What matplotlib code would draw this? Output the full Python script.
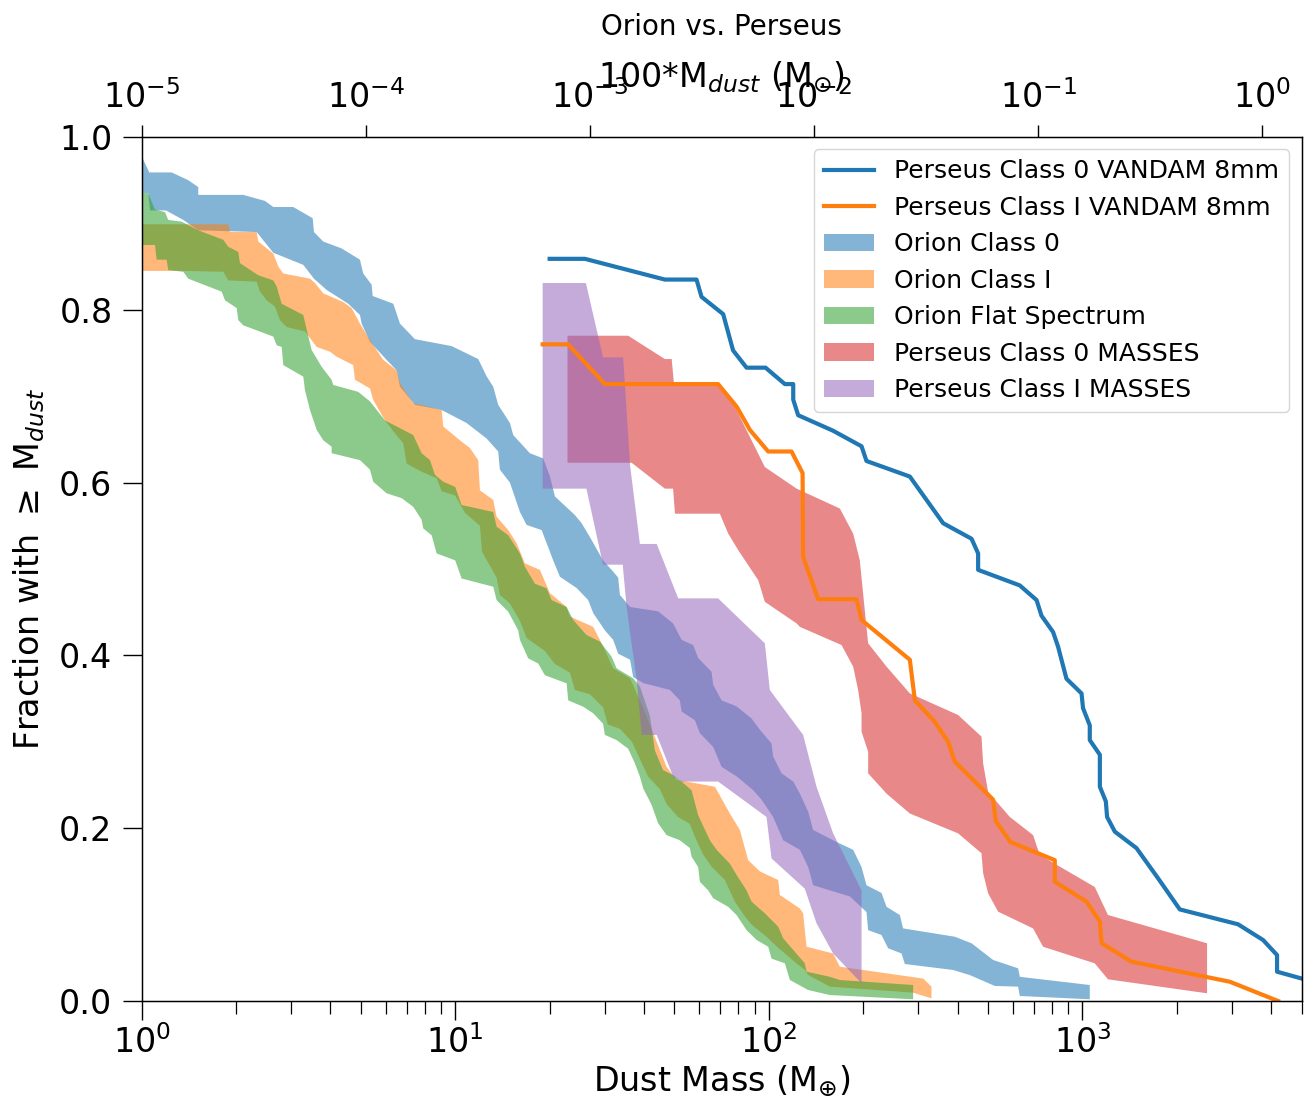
import numpy as np
import matplotlib
matplotlib.use('Agg')
import matplotlib.pyplot as plt
from matplotlib.lines import Line2D
from matplotlib.patches import Patch
from matplotlib.ticker import NullLocator

# ---------------- data (dust mass in Earth masses, cumulative fraction) ----------------
# Perseus Class 0 VANDAM 8mm (line)
per0_vandam_m = [20.0, 25.9, 46.6, 58.8, 61.0, 71.5, 76.9, 84.9, 97.6, 112.5, 119.6, 119.6, 124.0,
                 160.3, 197.5, 204.8, 281.5, 359.5, 442.9, 464.8, 464.8, 631, 714, 740, 806, 836,
                 889, 993, 1004, 1055, 1055, 1136, 1136, 1187, 1198, 1268, 1486, 1742, 2043, 3133,
                 3765, 4172, 4172, 5000]
per0_vandam_f = [0.859, 0.859, 0.835, 0.835, 0.815, 0.795, 0.753, 0.733, 0.733, 0.714, 0.714, 0.696,
                 0.678, 0.660, 0.642, 0.625, 0.607, 0.553, 0.535, 0.518, 0.499, 0.481, 0.464, 0.446,
                 0.427, 0.410, 0.373, 0.356, 0.339, 0.319, 0.302, 0.285, 0.248, 0.231, 0.213, 0.196,
                 0.177, 0.142, 0.106, 0.0888, 0.0706, 0.0532, 0.0339, 0.026]

# Perseus Class I VANDAM 8mm (line)
per1_vandam_m = [19.0, 22.9, 30.0, 68.9, 78.9, 87.0, 99.5, 118.1, 128.1, 128.6, 143.6, 190.4, 197.5,
                 281.5, 292.1, 338.2, 372.9, 391.7, 518.8, 529.2, 589.6, 816, 816, 1030, 1136, 1150,
                 1433, 2949, 4204]
per1_vandam_f = [0.760, 0.760, 0.714, 0.714, 0.688, 0.661, 0.636, 0.636, 0.611, 0.514, 0.465, 0.465,
                 0.441, 0.395, 0.348, 0.323, 0.300, 0.277, 0.233, 0.208, 0.184, 0.163, 0.138, 0.115,
                 0.092, 0.067, 0.0455, 0.0223, 0.0]

# Orion Class 0 (band)
ori0_up_m = [1.00, 1.058, 1.247, 1.409, 1.516, 1.516, 2.110, 2.474, 2.630, 3.044, 3.512, 3.545, 3.795,
             4.344, 4.969, 5.090, 5.414, 5.454, 6.346, 6.665, 7.438, 9.739, 11.84, 12.59, 13.22, 13.71,
             14.94, 15.31, 17.30, 19.08, 20.05, 20.79, 24.07, 25.29, 26.88, 29.6, 31.89, 33.08, 33.50,
             36.1, 44.37, 49.5, 52.7, 57.37, 59.51, 65.67, 66.45, 70.67, 78.89, 88.08, 93.6, 102.0,
             103.2, 109.8, 119.6, 125.6, 133.5, 138.4, 164.4, 185.7, 197.5, 204.8, 228.7, 237.3,
             261.6, 268.0, 391.6, 442.9, 518.8, 623.4, 631.3, 1055]
ori0_up_f = [0.978, 0.959, 0.959, 0.950, 0.942, 0.933, 0.933, 0.926, 0.919, 0.919, 0.906, 0.890, 0.879,
             0.871, 0.858, 0.842, 0.829, 0.816, 0.807, 0.784, 0.766, 0.758, 0.743, 0.723, 0.711, 0.690,
             0.669, 0.655, 0.634, 0.628, 0.607, 0.584, 0.5625, 0.553, 0.537, 0.51, 0.497, 0.49, 0.47,
             0.456, 0.451, 0.437, 0.418, 0.412, 0.397, 0.381, 0.366, 0.348, 0.341, 0.327, 0.314, 0.298,
             0.283, 0.2635, 0.254, 0.240, 0.219, 0.198, 0.184, 0.175, 0.155, 0.134, 0.125, 0.109,
             0.0995, 0.084, 0.0744, 0.0668, 0.0475, 0.0378, 0.028, 0.0185]
ori0_lo_m = [1.00, 1.050, 1.064, 1.196, 1.358, 1.516, 2.328, 2.630, 3.278, 3.545, 3.891, 4.560, 4.969,
             5.030, 5.347, 6.045, 6.506, 6.665, 7.438, 9.052, 10.87, 12.59, 13.71, 13.88, 14.94, 16.08,
             16.89, 18.86, 20.53, 21.57, 24.38, 26.55, 27.54, 30.0, 31.89, 33.08, 36.1, 36.93, 39.76,
             48.36, 52.03, 52.7, 58.09, 60.26, 66.45, 70.67, 78.89, 89.13, 94.78, 103.2, 111.1, 125.6,
             133.5, 138.4, 181.2, 204.8, 207.3, 228.7, 240.1, 264.9, 271.4, 386.8, 437.3, 525.4,
             623.4, 631.3, 1055]
ori0_lo_f = [0.935, 0.935, 0.915, 0.915, 0.904, 0.892, 0.890, 0.866, 0.852, 0.836, 0.823, 0.807, 0.794,
             0.784, 0.763, 0.742, 0.730, 0.711, 0.690, 0.684, 0.669, 0.651, 0.636, 0.615, 0.600, 0.566,
             0.551, 0.545, 0.51, 0.491, 0.478, 0.464, 0.449, 0.429, 0.418, 0.402, 0.395, 0.375, 0.368,
             0.36, 0.348, 0.335, 0.325, 0.310, 0.294, 0.271, 0.26, 0.244, 0.233, 0.213, 0.186, 0.175,
             0.155, 0.134, 0.121, 0.103, 0.082, 0.0764, 0.061, 0.055, 0.0428, 0.0359, 0.030, 0.0174,
             0.0166, 0.0058, 0.002]

# Orion Class I (band)
ori1_up_m = [1.005, 1.889, 1.913, 2.328, 2.355, 2.630, 2.728, 2.830, 3.443, 3.572, 3.795, 4.395, 4.675,
             4.969, 5.347, 5.895, 6.506, 6.665, 7.346, 9.052, 9.157, 10.35, 11.14, 11.84, 11.99, 13.22,
             13.55, 14.76, 15.69, 16.68, 18.62, 20.05, 22.65, 23.21, 27.54, 29.29, 31.89, 36.1, 38.81,
             42.79, 47.20, 50.79, 67.29, 75.09, 80.84, 85.9, 93.6, 107.1, 108.4, 125.6, 128.6, 131.9,
             160.3, 168.4, 310.4, 330.1, 330.1]
ori1_up_f = [0.899, 0.899, 0.890, 0.890, 0.879, 0.865, 0.850, 0.842, 0.836, 0.831, 0.819, 0.809, 0.802,
             0.784, 0.765, 0.742, 0.730, 0.715, 0.692, 0.684, 0.665, 0.649, 0.640, 0.626, 0.591, 0.580,
             0.5605, 0.545, 0.53, 0.5065, 0.499, 0.472, 0.456, 0.445, 0.433, 0.414, 0.385, 0.3735, 0.348,
             0.31, 0.271, 0.256, 0.248, 0.217, 0.198, 0.163, 0.150, 0.14, 0.1227, 0.107, 0.1015, 0.0628,
             0.055, 0.0397, 0.026, 0.0166, 0.003]
ori1_lo_m = [1.005, 1.358, 1.822, 1.889, 2.328, 2.385, 2.505, 2.662, 2.762, 2.901, 3.318, 3.616, 3.987,
             4.187, 4.730, 4.790, 5.347, 5.478, 5.969, 6.425, 6.828, 7.000, 7.718, 8.725, 9.052, 10.0,
             10.74, 11.99, 12.17, 13.55, 13.88, 14.94, 16.08, 16.89, 19.32, 20.79, 23.21, 24.07, 26.88,
             29.6, 30.68, 33.50, 36.59, 38.81, 41.16, 44.93, 47.20, 51.28, 56.0, 58.09, 61.6, 65.8, 72.4,
             77.9, 83.8, 88.3, 97.8, 106.8, 112.5, 121.0, 130.2, 133.5, 156.5, 288.4, 330.1]
ori1_lo_f = [0.845, 0.845, 0.844, 0.834, 0.8325, 0.821, 0.811, 0.8036, 0.788, 0.780, 0.775, 0.757, 0.7515,
             0.7457, 0.736, 0.719, 0.709, 0.6956, 0.672, 0.657, 0.6455, 0.622, 0.6135, 0.605, 0.59, 0.585,
             0.565, 0.55, 0.52, 0.49, 0.47, 0.46, 0.44, 0.42, 0.405, 0.39, 0.38, 0.36, 0.355, 0.34, 0.32,
             0.315, 0.30, 0.28, 0.26, 0.245, 0.228, 0.213, 0.205, 0.19, 0.17, 0.155, 0.14, 0.115, 0.098,
             0.088, 0.075, 0.062, 0.055, 0.045, 0.036, 0.030, 0.0166, 0.0096, 0.003]

# Orion Flat Spectrum (band)
oriF_up_m = [1.008, 1.048, 1.103, 1.188, 1.216, 1.342, 1.409, 1.516, 1.822, 1.889, 2.034, 2.059, 2.355,
             2.630, 2.696, 2.797, 2.901, 3.278, 3.360, 3.485, 3.751, 4.036, 4.084, 4.907, 5.347, 5.969,
             6.506, 7.346, 7.814, 8.307, 8.617, 9.157, 10.0, 10.48, 11.14, 13.22, 13.55, 14.76, 16.08,
             16.68, 17.95, 19.56, 20.29, 22.65, 23.78, 26.23, 28.93, 31.52, 32.70, 36.93, 38.81, 41.75,
             43.31, 46.03, 49.5, 52.7, 56.7, 59.51, 64.86, 68.14, 75.09, 78.89, 84.9, 88.08, 97.1, 107.1,
             111.1, 130.2, 131.9, 156.5, 168.4, 288.4]
oriF_up_f = [0.935, 0.935, 0.916, 0.913, 0.904, 0.902, 0.898, 0.892, 0.881, 0.873, 0.867, 0.854, 0.840,
             0.834, 0.827, 0.807, 0.804, 0.794, 0.777, 0.7535, 0.734, 0.719, 0.713, 0.705, 0.694, 0.672,
             0.665, 0.655, 0.634, 0.626, 0.609, 0.601, 0.595, 0.574, 0.572, 0.566, 0.549, 0.539, 0.518,
             0.5026, 0.483, 0.4777, 0.464, 0.456, 0.441, 0.4236, 0.416, 0.3985, 0.385, 0.3735, 0.364, 0.33,
             0.29, 0.267, 0.2616, 0.2538, 0.244, 0.215, 0.186, 0.175, 0.159, 0.146, 0.128, 0.115, 0.1015,
             0.086, 0.0726, 0.0436, 0.034, 0.028, 0.0243, 0.0185]
oriF_lo_m = [1.008, 1.103, 1.117, 1.202, 1.216, 1.358, 1.409, 1.800, 1.845, 2.010, 2.034, 2.110, 2.630,
             2.696, 2.797, 2.830, 3.278, 3.318, 3.443, 3.616, 3.795, 4.036, 4.036, 4.969, 5.347, 5.478,
             6.045, 6.748, 7.346, 7.814, 7.907, 8.412, 8.725, 10.0, 10.48, 13.22, 13.55, 14.76, 15.88,
             16.08, 17.09, 18.39, 19.32, 22.65, 22.92, 25.59, 27.54, 29.6, 30.0, 32.70, 35.6, 37.41, 38.81,
             39.76, 42.28, 44.37, 47.20, 52.03, 56.0, 56.7, 59.51, 60.26, 64.07, 66.45, 74.19, 78.89, 84.9,
             91.39, 99.5, 102.0, 112.5, 116.7, 133.5, 156.5, 288.4]
oriF_lo_f = [0.875, 0.875, 0.858, 0.858, 0.846, 0.844, 0.836, 0.821, 0.811, 0.802, 0.788, 0.782, 0.769,
             0.759, 0.757, 0.736, 0.7226, 0.707, 0.684, 0.661, 0.649, 0.6415, 0.634, 0.626, 0.615, 0.601,
             0.5876, 0.582, 0.572, 0.557, 0.547, 0.539, 0.518, 0.510, 0.489, 0.4795, 0.464, 0.4506, 0.429,
             0.418, 0.3966, 0.3906, 0.377, 0.3677, 0.348, 0.3406, 0.333, 0.321, 0.308, 0.302, 0.292, 0.275,
             0.2596, 0.246, 0.227, 0.2056, 0.192, 0.186, 0.177, 0.167, 0.155, 0.138, 0.128, 0.119, 0.109,
             0.0995, 0.082, 0.0706, 0.0628, 0.049, 0.0436, 0.0243, 0.0127, 0.0069, 0.002]

# Perseus Class 0 MASSES (band)
per0_up_m = [22.8, 35.6, 46.6, 49.0, 49.8, 68.8, 76.9, 97.1, 122.6, 168.4, 185.7, 195.0, 203.8, 207.3,
             237.3, 281.5, 401.3, 476.4, 482.2, 500.2, 586.6, 695.8, 730.9, 1094, 1206, 2496]
per0_up_f = [0.770, 0.770, 0.743, 0.743, 0.715, 0.715, 0.692, 0.618, 0.593, 0.570, 0.541, 0.510, 0.440,
             0.414, 0.387, 0.356, 0.331, 0.306, 0.275, 0.242, 0.213, 0.192, 0.169, 0.132, 0.0995, 0.0668]
per0_lo_m = [22.8, 36.5, 46.6, 49.5, 50.2, 69.8, 74.2, 79.8, 92.5, 97.1, 122.6, 125.6, 170.5, 185.7,
             192.6, 197.5, 197.5, 207.3, 207.3, 237.3, 281.5, 401.3, 476.4, 482.2, 500.2, 538.3, 695.8,
             748.8, 1094, 1206, 2496]
per0_lo_f = [0.623, 0.623, 0.593, 0.593, 0.564, 0.564, 0.541, 0.522, 0.487, 0.462, 0.437, 0.433, 0.412,
             0.387, 0.360, 0.333, 0.3117, 0.2885, 0.2635, 0.240, 0.217, 0.194, 0.171, 0.148, 0.1246,
             0.1034, 0.084, 0.0628, 0.0436, 0.0251, 0.0089]

# Perseus Class I MASSES (band)
per1_up_m = [19.0, 26.1, 29.6, 34.3, 34.8, 36.1, 38.8, 43.9, 51.4, 68.9, 97.1, 100.7, 128.6, 141.9,
             160.3, 197.5]
per1_up_f = [0.831, 0.831, 0.745, 0.745, 0.71, 0.62, 0.529, 0.529, 0.466, 0.466, 0.414, 0.36, 0.308,
             0.248, 0.194, 0.128]
per1_lo_m = [19.0, 26.2, 29.6, 34.2, 35.2, 36.1, 37.9, 39.3, 43.9, 49.5, 52.7, 68.9, 98.3, 102.0, 130.2,
             141.9, 160.3, 197.5]
per1_lo_f = [0.593, 0.593, 0.505, 0.505, 0.456, 0.426, 0.372, 0.308, 0.308, 0.26, 0.254, 0.254, 0.213,
             0.165, 0.130, 0.090, 0.055, 0.0205]

labels = ['Perseus Class 0 VANDAM 8mm', 'Perseus Class I VANDAM 8mm', 'Orion Class 0',
          'Orion Class I', 'Orion Flat Spectrum', 'Perseus Class 0 MASSES', 'Perseus Class I MASSES']
y_ticks = [0.0, 0.2, 0.4, 0.6, 0.8, 1.0]

# ---------------- figure ----------------
fig = plt.figure(figsize=(13.14, 11.05), dpi=100)
ax = fig.add_axes([0.10776, 0.09412, 0.88288, 0.7819])

band_alpha = 0.55
bands = [
    (ori0_up_m, ori0_up_f, ori0_lo_m, ori0_lo_f, 'tab:blue'),
    (ori1_up_m, ori1_up_f, ori1_lo_m, ori1_lo_f, 'tab:orange'),
    (oriF_up_m, oriF_up_f, oriF_lo_m, oriF_lo_f, 'tab:green'),
    (per0_up_m, per0_up_f, per0_lo_m, per0_lo_f, 'tab:red'),
    (per1_up_m, per1_up_f, per1_lo_m, per1_lo_f, 'tab:purple'),
]
for um, uf, lm, lf, c in bands:
    xs = np.concatenate([um, lm[::-1]])
    ys = np.concatenate([uf, lf[::-1]])
    ax.fill(xs, ys, color=c, alpha=band_alpha, lw=0)

ax.plot(per0_vandam_m, per0_vandam_f, color='tab:blue', lw=3)
ax.plot(per1_vandam_m, per1_vandam_f, color='tab:orange', lw=3)

ax.set_xscale('log')
ax.set_xlim(1, 5000)
ax.set_ylim(0, 1)
ax.set_yticks(y_ticks)
ax.set_yticklabels(['%.1f' % t for t in y_ticks])
ax.set_xlabel(r'Dust Mass (M$_{\oplus}$)', fontsize=24, labelpad=3)
ax.set_ylabel(r'Fraction with $\geq$ M$_{dust}$', fontsize=24, labelpad=9)
ax.tick_params(which='major', direction='out', length=14, width=1.0, labelsize=24)
ax.tick_params(axis='y', which='major', pad=7)
ax.tick_params(which='minor', direction='out', length=9, width=0.9)
ax.yaxis.set_minor_locator(NullLocator())
for s in ax.spines.values():
    s.set_linewidth(1.0)

ax2 = ax.twiny()
ax2.set_xscale('log')
ax2.set_xlim(1e-5, 1.5)
ax2.xaxis.set_minor_locator(NullLocator())
ax2.tick_params(which='major', direction='out', length=9, width=1.0, labelsize=24, pad=7)
ax2.set_xlabel(r'100*M$_{dust}$ (M$_{\odot}$)', fontsize=24, labelpad=-5)
ax2.set_title('Orion vs. Perseus', fontsize=20, pad=18)

handles = [Line2D([], [], color='tab:blue', lw=3), Line2D([], [], color='tab:orange', lw=3)]
for c in ['tab:blue', 'tab:orange', 'tab:green', 'tab:red', 'tab:purple']:
    handles.append(Patch(facecolor=c, alpha=band_alpha, lw=0))
ax.legend(handles, labels, loc='upper right', fontsize=18)

fig.savefig('out.png', dpi=100)
